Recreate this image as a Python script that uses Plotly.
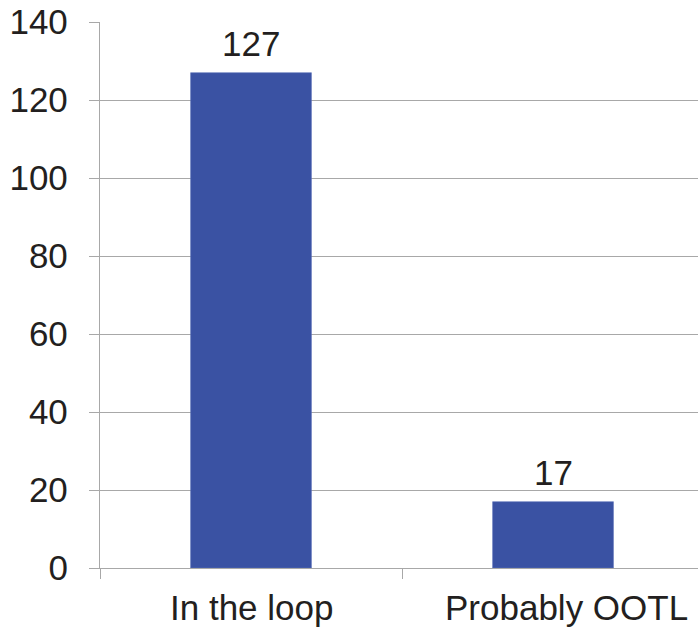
import plotly.graph_objects as go

categories = ["In the loop", "Probably OOTL"]
counts = [127, 17]
y_ticks = [0, 20, 40, 60, 80, 100, 120, 140]

BAR_COLOR = "#3A52A3"
GRID_COLOR = "#A8A8A8"
TEXT_COLOR = "#231F20"
FONT = "Liberation Sans, Arial, sans-serif"
FONT_SIZE = 35

fig = go.Figure(
    go.Bar(
        x=categories,
        y=counts,
        width=0.4,
        marker=dict(color=BAR_COLOR, line=dict(color="#5C72B8", width=0.6)),
    )
)

# value labels above each bar
for cat, val in zip(categories, counts):
    fig.add_annotation(
        x=cat,
        y=val,
        text=str(val),
        showarrow=False,
        yanchor="bottom",
        yshift=8,
        font=dict(family=FONT, size=FONT_SIZE, color=TEXT_COLOR),
    )

# category labels under the axis (the last one nudged right, as it sits
# in a category that runs past the right edge)
label_shifts = [0, 13]
for cat, dx in zip(categories, label_shifts):
    fig.add_annotation(
        x=cat,
        xref="x",
        y=0,
        yref="paper",
        text=cat,
        showarrow=False,
        yanchor="top",
        yshift=-18,
        xshift=dx,
        font=dict(family=FONT, size=FONT_SIZE, color=TEXT_COLOR),
    )

fig.update_layout(
    width=698,
    height=632,
    margin=dict(l=100, r=0, t=22, b=64),
    paper_bgcolor="white",
    plot_bgcolor="white",
    showlegend=False,
    font=dict(family=FONT, size=FONT_SIZE, color=TEXT_COLOR),
)

fig.update_xaxes(
    range=[-0.5, 1.48],
    showgrid=False,
    showline=True,
    linecolor=GRID_COLOR,
    linewidth=1.3,
    ticks="outside",
    tickson="boundaries",
    ticklen=10,
    tickcolor=GRID_COLOR,
    tickwidth=1.3,
    showticklabels=False,
)

fig.update_yaxes(
    range=[0, 140],
    tickvals=y_ticks,
    showgrid=True,
    gridcolor=GRID_COLOR,
    gridwidth=1.3,
    zeroline=False,
    showline=True,
    linecolor=GRID_COLOR,
    linewidth=1.3,
    ticks="outside",
    ticklen=10,
    tickcolor=GRID_COLOR,
    tickwidth=1.3,
    ticklabelstandoff=14,
    tickfont=dict(family=FONT, size=FONT_SIZE, color=TEXT_COLOR),
)

fig.write_html("out.html")
